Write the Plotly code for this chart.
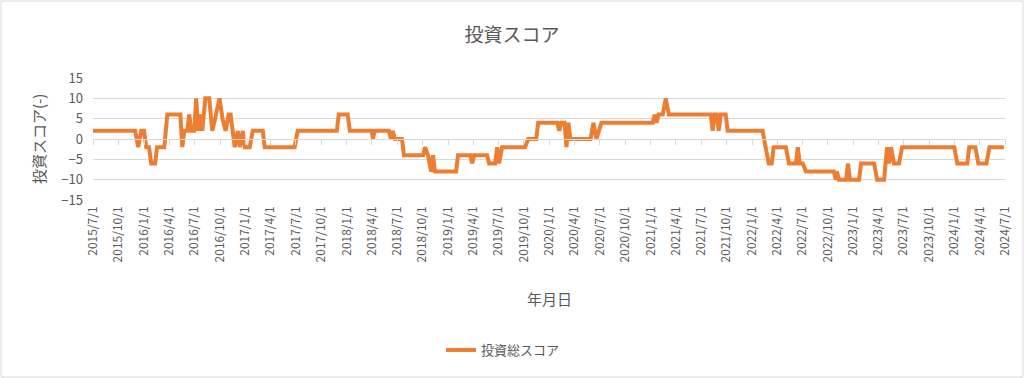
import plotly.graph_objects as go
import pandas as pd

# ---- data ----
dates = [
    "2015-07-01", "2015-11-30", "2015-12-11", "2015-12-22", "2016-01-01", "2016-01-09",
    "2016-01-19", "2016-01-27", "2016-02-10", "2016-02-17", "2016-03-14", "2016-03-25",
    "2016-05-11", "2016-05-18", "2016-05-25", "2016-06-05", "2016-06-12", "2016-06-19",
    "2016-06-30", "2016-07-07", "2016-07-15", "2016-07-22", "2016-07-29", "2016-08-09",
    "2016-08-23", "2016-09-03", "2016-09-10", "2016-09-29", "2016-10-10", "2016-10-21",
    "2016-11-01", "2016-11-08", "2016-11-23", "2016-12-04", "2016-12-11", "2016-12-22",
    "2016-12-29", "2017-01-16", "2017-01-27", "2017-03-04", "2017-03-11", "2017-06-27",
    "2017-07-08", "2017-11-26", "2017-12-03", "2018-01-04", "2018-01-12", "2018-04-01",
    "2018-04-05", "2018-04-12", "2018-06-02", "2018-06-09", "2018-06-16", "2018-06-23",
    "2018-07-19", "2018-07-26", "2018-10-03", "2018-10-10", "2018-10-21", "2018-11-01",
    "2018-11-08", "2018-11-15", "2019-01-30", "2019-02-06", "2019-03-22", "2019-03-29",
    "2019-04-05", "2019-05-22", "2019-05-29", "2019-06-20", "2019-06-27", "2019-07-04",
    "2019-07-15", "2019-10-06", "2019-10-17", "2019-11-15", "2019-11-22", "2020-01-30",
    "2020-02-06", "2020-02-13", "2020-02-25", "2020-03-03", "2020-03-10", "2020-03-17",
    "2020-05-29", "2020-06-08", "2020-06-19", "2020-07-07", "2021-01-08", "2021-01-15",
    "2021-01-22", "2021-01-29", "2021-02-13", "2021-02-24", "2021-03-07", "2021-08-05",
    "2021-08-12", "2021-08-19", "2021-08-26", "2021-09-03", "2021-09-10", "2021-09-28",
    "2021-10-05", "2022-02-08", "2022-02-19", "2022-03-02", "2022-03-13", "2022-03-20",
    "2022-05-03", "2022-05-14", "2022-06-08", "2022-06-15", "2022-06-22", "2022-07-03",
    "2022-07-14", "2022-10-23", "2022-10-30", "2022-11-03", "2022-11-10", "2022-12-06",
    "2022-12-13", "2022-12-20", "2023-01-22", "2023-01-29", "2023-03-17", "2023-03-28",
    "2023-04-22", "2023-05-03", "2023-05-10", "2023-05-17", "2023-05-28", "2023-06-15",
    "2023-06-26", "2023-12-31", "2024-01-11", "2024-02-16", "2024-02-23", "2024-03-16",
    "2024-03-27", "2024-04-25", "2024-05-06", "2024-06-27",
]
scores = [
    2, 2, -2, 2, 2, -2,
    -2, -6, -6, -2, -2, 6,
    6, -2, 2, 2, 6, 2,
    2, 10, 2, 6, 2, 10,
    10, 2, 4, 10, 5, 2,
    6, 6, -2, 2, -2, 2,
    -2, -2, 2, 2, -2, -2,
    2, 2, 6, 6, 2, 2,
    0, 2, 2, 0, 2, 0,
    0, -4, -4, -2, -4, -8,
    -4, -8, -8, -4, -4, -6,
    -4, -4, -6, -6, -2, -6,
    -2, -2, 0, 0, 4, 4,
    2, 4, 4, -2, 4, 0,
    0, 4, 0, 4, 4, 6,
    4, 6, 6, 10, 6, 6,
    2, 6, 6, 2, 6, 6,
    2, 2, -2, -6, -6, -2,
    -2, -6, -6, -2, -6, -6,
    -8, -8, -10, -8, -10, -10,
    -6, -10, -10, -6, -6, -10,
    -10, -2, -6, -2, -6, -6,
    -2, -2, -6, -6, -2, -2,
    -6, -6, -2, -2,
]
series_name = "投資総スコア"
chart_title = "投資スコア"
x_title = "年月日"
y_title = "投資スコア(-)"
y_ticks = [15, 10, 5, 0, -5, -10, -15]

tick_dates = pd.date_range("2015-07-01", "2024-07-01", freq="3MS")
tick_text = [f"{d.year}/{d.month}/{d.day}" for d in tick_dates]

FONT = "Noto Sans CJK JP"
GRAY = "#595959"
ORANGE = "#ED7D31"

W, H = 1024, 378
ML, MR, MT, MB = 93, 19, 78, 178
PW, PH = W - ML - MR, H - MT - MB

fig = go.Figure()
fig.add_trace(go.Scatter(
    x=pd.to_datetime(dates), y=scores, mode="lines", name=series_name,
    line=dict(color=ORANGE, width=4), showlegend=True,
))
# invisible trace on overlay axis to draw the tick marks on the zero line
fig.add_trace(go.Scatter(x=[tick_dates[0], tick_dates[-1]], y=[0, 0], xaxis="x2",
                         mode="lines", line=dict(width=0), showlegend=False,
                         hoverinfo="skip"))

x_range = [tick_dates[0], tick_dates[-1]]
fig.update_layout(
    width=W, height=H,
    margin=dict(l=ML, r=MR, t=MT, b=MB),
    paper_bgcolor="white", plot_bgcolor="white",
    font=dict(family=FONT, color=GRAY, size=12),
    title=dict(text=chart_title, x=0.5, xanchor="center", y=1 - 35 / H, yanchor="middle",
               yref="container", font=dict(size=19, color=GRAY, family=FONT)),
    xaxis=dict(range=x_range, tickvals=tick_dates, ticktext=tick_text, tickangle=-90,
               showgrid=False, zeroline=False, showline=False, ticks="",
               ticklabelstandoff=3, tickfont=dict(size=12, color=GRAY)),
    xaxis2=dict(range=x_range, overlaying="x", anchor="free", position=0.5,
                tickvals=tick_dates, showticklabels=False, ticks="outside",
                ticklen=5, tickcolor="#D9D9D9", showline=True, linecolor="#D9D9D9",
                showgrid=False, zeroline=False),
    yaxis=dict(range=[-15, 15], tickvals=y_ticks, showgrid=True, gridcolor="#D9D9D9",
               gridwidth=1, zeroline=False, showline=False, ticks="",
               ticklabelstandoff=9, tickfont=dict(size=13, color=GRAY)),
    showlegend=True,
    legend=dict(orientation="h", x=0.5 - 46 / PW, xanchor="center", y=-150 / PH,
                yanchor="middle", font=dict(size=13, color=GRAY, family=FONT),
                bgcolor="rgba(0,0,0,0)"),
)
fig.add_annotation(text=x_title, xref="paper", yref="paper", x=0.5, y=-(298 - 200) / PH,
                   showarrow=False, font=dict(size=15, color=GRAY, family=FONT),
                   xanchor="center", yanchor="middle")
fig.add_annotation(text=y_title, xref="paper", yref="paper", x=(38 - ML) / PW, y=0.5,
                   textangle=-90, showarrow=False, font=dict(size=15, color=GRAY, family=FONT),
                   xanchor="center", yanchor="middle")
# chart border
fig.add_shape(type="rect", xref="paper", yref="paper",
              x0=-(ML - 1) / PW, x1=1 + (MR - 1) / PW, y0=-(MB - 1) / PH, y1=1 + (MT - 1) / PH,
              line=dict(color="#D9D9D9", width=1), fillcolor="rgba(0,0,0,0)", layer="below")

fig.write_html("out.html", config={"displayModeBar": False},
               post_script="document.body.style.margin='0';")
